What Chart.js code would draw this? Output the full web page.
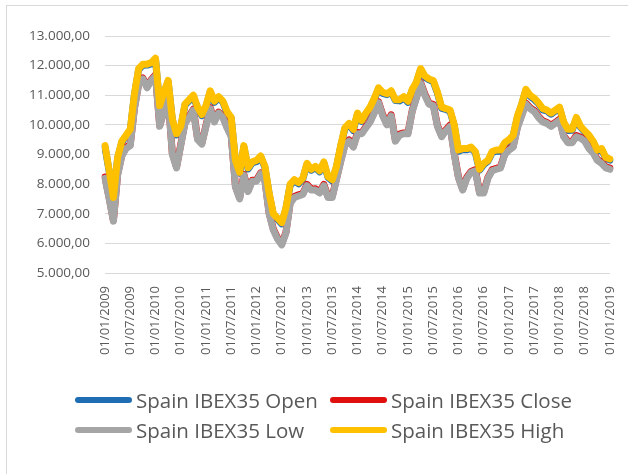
<!DOCTYPE html>
<html lang="es">
<head>
    <meta charset="UTF-8">
    <title>Spain IBEX35</title>
    <script src="https://cdn.jsdelivr.net/npm/chart.js"></script>
    <style>
        html, body { margin: 0; padding: 0; background: #fff; overflow: hidden; }
        .frame { position: absolute; left: 6px; top: 5px; width: 640px; height: 480px; border: 1px solid #d9d9d9; }
        .frame canvas { position: absolute; left: 0; top: 0; }
        .legend { position: absolute; left: 0; top: 0; font-family: "Open Sans", sans-serif; font-size: 20.5px; color: #595959; }
        .legend .item { position: absolute; white-space: nowrap; display: flex; align-items: center; height: 24px; }
        .legend .swatch { display: inline-block; width: 57px; height: 6px; border-radius: 3px; margin-right: 4px; }
    </style>
</head>
<body>
    <div class="frame"><canvas id="chart" width="640" height="470"></canvas></div>
    <div class="legend" id="legend"></div>

    <script>
        // monthly samples, 01/01/2009 .. 01/01/2019
        const months = [];
        for (let i = 0; i <= 120; i++) {
            const y = 2009 + Math.floor(i / 12);
            const m = String(i % 12 + 1).padStart(2, "0");
            months.push("01/" + m + "/" + y);
        }

        const seriesNames = ["Spain IBEX35 Open", "Spain IBEX35 Close", "Spain IBEX35 Low", "Spain IBEX35 High"];
        const seriesColors = ["#1f6eb4", "#e0100f", "#a5a5a5", "#ffc000"];

        const openVals = [
            9260, 8420, 7510, 8870, 9410, 9620, 9800, 11010, 11870, 12010, 12020, 12060,
            12210, 10610, 11070, 11460, 10170, 9660, 9910, 10670, 10810, 10960, 10570, 10310,
            10610, 11120, 10760, 10910, 10770, 10410, 10220, 8760, 8370, 9260, 8510, 8720,
            8760, 8920, 8560, 7670, 6960, 6820, 6660, 7170, 7960, 8120, 8010, 8170,
            8660, 8470, 8560, 8420, 8710, 8220, 8110, 8570, 9260, 9870, 10010, 9810,
            10360, 10120, 10360, 10570, 10860, 11220, 11060, 11020, 11110, 10820, 10810, 10920,
            10760, 11170, 11410, 11870, 11610, 11520, 11460, 11070, 10560, 10520, 10460, 9970,
            9110, 9170, 9160, 9220, 9060, 8470, 8660, 8770, 9060, 9120, 9110, 9370,
            9460, 9620, 10260, 10670, 11160, 10970, 10860, 10720, 10510, 10470, 10360, 10470,
            10560, 10070, 9810, 9820, 10210, 9920, 9760, 9620, 9410, 9120, 9160, 8870,
            8810
        ];
        const closeVals = [
            8240, 7540, 6780, 8340, 8980, 9240, 9340, 10580, 11390, 11580, 11290, 11530,
            11690, 9980, 10490, 10930, 9040, 8580, 9340, 10080, 10290, 10530, 9540, 9380,
            9990, 10580, 10140, 10430, 10290, 9930, 9640, 7930, 7540, 8330, 7790, 8130,
            8140, 8380, 8140, 7030, 6490, 6180, 5990, 6380, 7390, 7580, 7640, 7680,
            7990, 7830, 7840, 7730, 7990, 7580, 7590, 8180, 8790, 9330, 9490, 9280,
            9740, 9730, 9940, 10130, 10440, 10780, 10340, 10030, 10340, 9480, 9690, 9730,
            9740, 10480, 10940, 11430, 11040, 10730, 10690, 9980, 9640, 9830, 9990, 9030,
            8240, 7830, 8240, 8430, 8490, 7730, 7740, 8230, 8490, 8530, 8590, 9030,
            9190, 9280, 9940, 10330, 10740, 10580, 10490, 10280, 10140, 10080, 9990, 10080,
            10190, 9630, 9440, 9430, 9640, 9580, 9490, 9230, 9090, 8830, 8740, 8580,
            8540
        ];
        const lowVals = [
            8200, 7500, 6750, 8300, 8950, 9200, 9300, 10550, 11350, 11550, 11250, 11500,
            11650, 9950, 10450, 10900, 9000, 8550, 9300, 10050, 10250, 10500, 9500, 9350,
            9950, 10550, 10100, 10400, 10250, 9900, 9600, 7900, 7500, 8300, 7750, 8100,
            8100, 8350, 8100, 7000, 6450, 6150, 5950, 6350, 7350, 7550, 7600, 7650,
            7950, 7800, 7800, 7700, 7950, 7550, 7550, 8150, 8750, 9300, 9450, 9250,
            9700, 9700, 9900, 10100, 10400, 10750, 10300, 10000, 10300, 9450, 9650, 9700,
            9700, 10450, 10900, 11400, 11000, 10700, 10650, 9950, 9600, 9800, 9950, 9000,
            8200, 7800, 8200, 8400, 8450, 7700, 7700, 8200, 8450, 8500, 8550, 9000,
            9150, 9250, 9900, 10300, 10700, 10550, 10450, 10250, 10100, 10050, 9950, 10050,
            10150, 9600, 9400, 9400, 9600, 9550, 9450, 9200, 9050, 8800, 8700, 8550,
            8500
        ];
        const highVals = [
            9300, 8450, 7550, 8900, 9450, 9650, 9850, 11050, 11900, 12050, 12050, 12100,
            12250, 10650, 11100, 11500, 10200, 9700, 9950, 10700, 10850, 11000, 10600, 10350,
            10650, 11150, 10800, 10950, 10800, 10450, 10250, 8800, 8400, 9300, 8550, 8750,
            8800, 8950, 8600, 7700, 7000, 6850, 6700, 7200, 8000, 8150, 8050, 8200,
            8700, 8500, 8600, 8450, 8750, 8250, 8150, 8600, 9300, 9900, 10050, 9850,
            10400, 10150, 10400, 10600, 10900, 11250, 11100, 11050, 11150, 10850, 10850, 10950,
            10800, 11200, 11450, 11900, 11650, 11550, 11500, 11100, 10600, 10550, 10500, 10000,
            9150, 9200, 9200, 9250, 9100, 8500, 8700, 8800, 9100, 9150, 9150, 9400,
            9500, 9650, 10300, 10700, 11200, 11000, 10900, 10750, 10550, 10500, 10400, 10500,
            10600, 10100, 9850, 9850, 10250, 9950, 9800, 9650, 9450, 9150, 9200, 8900,
            8850
        ];

        const yMin = 5000, yMax = 13000, yStep = 1000;

        function fmtEs(v) {
            const parts = v.toFixed(2).split(".");
            return parts[0].replace(/\B(?=(\d{3})+(?!\d))/g, ".") + "," + parts[1];
        }

        const allVals = [openVals, closeVals, lowVals, highVals];
        const datasets = allVals.map((vals, i) => ({
            label: seriesNames[i],
            data: vals,
            borderColor: seriesColors[i],
            backgroundColor: seriesColors[i],
            borderWidth: 7,
            borderCapStyle: "round",
            borderJoinStyle: "round",
            pointRadius: 0,
            tension: 0,
            order: 3 - i   // High drawn on top
        }));

        const ctx = document.getElementById("chart").getContext("2d");
        const chart = new Chart(ctx, {
            type: "line",
            data: { labels: months, datasets: datasets },
            options: {
                responsive: false,
                animation: false,
                layout: { padding: { left: 0, right: 37, top: 30, bottom: 93 } },
                plugins: {
                    tooltip: { enabled: false },
                    legend: { display: false }
                },
                scales: {
                    x: {
                        type: "category",
                        offset: false,
                        grid: { display: false },
                        border: { display: false },
                        ticks: {
                            autoSkip: false,
                            maxRotation: 90,
                            minRotation: 90,
                            padding: 5,
                            color: "#595959",
                            font: { family: "Open Sans", size: 13 },
                            callback: function (v, i) { return i % 6 === 0 ? this.getLabelForValue(v) : null; }
                        },
                        afterFit: (s) => { s.height = 110; }
                    },
                    y: {
                        min: yMin,
                        max: yMax,
                        grid: { color: "#d9d9d9", lineWidth: 1, drawTicks: false },
                        border: { display: false },
                        ticks: {
                            stepSize: yStep,
                            padding: 15,
                            color: "#595959",
                            font: { family: "Open Sans", size: 13.5 },
                            callback: (v) => fmtEs(v)
                        },
                        afterFit: (s) => { s.width = 98; }
                    }
                }
            }
        });

        // legend in two columns, like the original
        const legendPos = [[75, 388], [330, 388], [75, 418], [330, 418]];
        const legendEl = document.getElementById("legend");
        chart.data.datasets.forEach((ds, i) => {
            const item = document.createElement("div");
            item.className = "item";
            item.style.left = legendPos[i][0] + "px";
            item.style.top = legendPos[i][1] + "px";
            const sw = document.createElement("span");
            sw.className = "swatch";
            sw.style.background = ds.borderColor;
            item.appendChild(sw);
            item.appendChild(document.createTextNode(ds.label));
            legendEl.appendChild(item);
        });
    </script>
</body>
</html>
